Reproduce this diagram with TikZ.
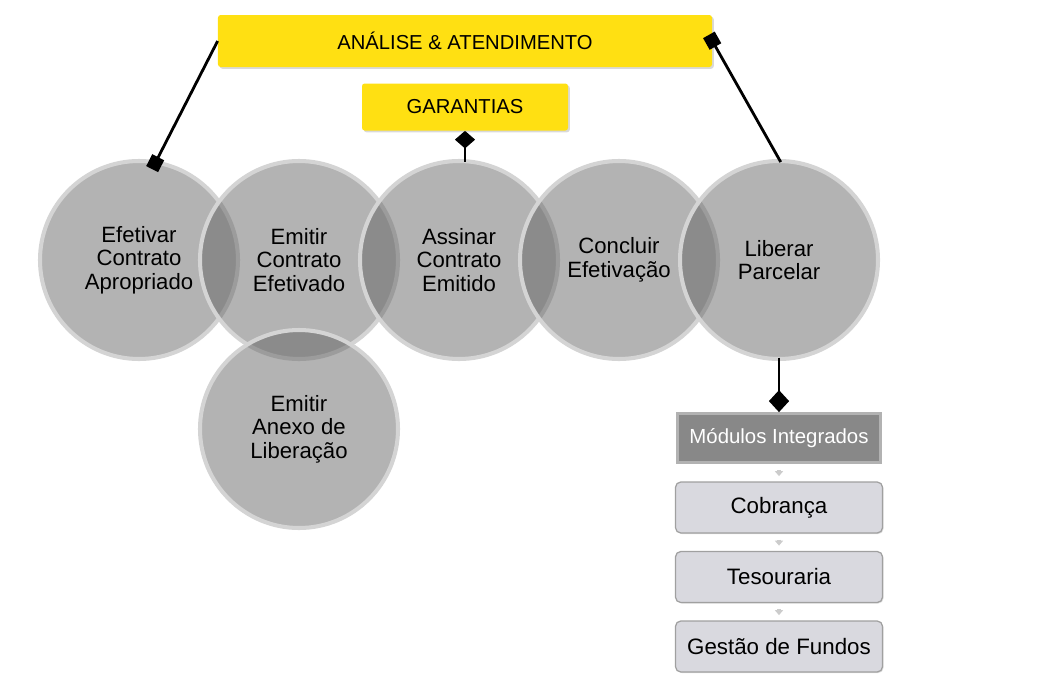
\documentclass[tikz,border=0pt]{standalone}
\usepackage{fontspec}
\setmainfont{Liberation Sans}
\usepackage{tikz}
\usetikzlibrary{positioning,shadows,arrows.meta}
\definecolor{sunyellow}{RGB}{255, 224, 18}
\definecolor{stepgray}{RGB}{99, 99, 99}
\definecolor{ringgray}{RGB}{212, 212, 212}
\definecolor{moddark}{RGB}{136, 136, 136}
\definecolor{modedge}{RGB}{178, 178, 178}
\definecolor{modlight}{RGB}{217, 217, 223}
\definecolor{modline}{RGB}{160, 160, 160}

\begin{document}
\begin{tikzpicture}[
    x=0.2mm, y=-0.2mm,
    node distance=3.2cm, on grid,
    every node/.style={align=center},
    etapa/.style={circle, minimum size=3.96cm, inner sep=0pt, fill=stepgray, fill opacity=0.49, text opacity=1, draw=ringgray, draw opacity=1, line width=2.3pt, font=\fontsize{12.6}{13.3}\selectfont},
    faixa/.style={rectangle, fill=sunyellow, rounded corners=1.5pt, font=\fontsize{11.5}{13}\selectfont, drop shadow={shadow xshift=1pt, shadow yshift=-1pt, opacity=0.3}},
    modulo/.style={rectangle, fill=moddark, draw=modedge, line width=1.6pt, text=white, minimum width=4.06cm, minimum height=0.98cm, font=\fontsize{11.6}{13}\selectfont},
    sistema/.style={rectangle, fill=modlight, draw=modline, line width=0.7pt, rounded corners=3pt, minimum width=4.14cm, minimum height=1.02cm, font=\fontsize{12.7}{14}\selectfont, drop shadow={shadow xshift=0.6pt, shadow yshift=-0.6pt, opacity=0.25}},
    ligacao/.style={draw=black, line width=1.6pt},
    seta/.style={draw=gray!40, line width=2.8pt, -{Triangle[length=2.8pt, width=4.6pt]}, shorten <=3.4pt, shorten >=3pt}
]
    \useasboundingbox (0,0) rectangle (1037,695);

    % Faixas superiores
    \node[faixa, minimum width=9.88cm, minimum height=1.04cm] (analise) at (465,41) {ANÁLISE \& ATENDIMENTO};
    \node[faixa, minimum width=4.12cm, minimum height=0.94cm, below=1.32cm of analise] (garantias) {GARANTIAS};

    % Etapas do contrato
    \node[etapa] (efetivar) at (139,260) {Efetivar\\Contrato\\Apropriado};
    \node[etapa, right=of efetivar] (emitir) {Emitir\\Contrato\\Efetivado};
    \node[etapa, right=of emitir] (assinar) {Assinar\\Contrato\\Emitido};
    \node[etapa, right=of assinar] (concluir) {Concluir\\Efetivação};
    \node[etapa, right=of concluir] (liberar) {Liberar\\Parcelar};
    \node[etapa, below=3.38cm of emitir] (anexo) {Emitir\\Anexo de\\Liberação};

    % Modulos integrados
    \node[modulo, below=3.56cm of liberar] (modulos) {Módulos Integrados};
    \node[sistema, below=1.39cm of modulos] (cobranca) {Cobrança};
    \node[sistema, below=1.39cm of cobranca] (tesouraria) {Tesouraria};
    \node[sistema, below=1.39cm of tesouraria] (fundos) {Gestão de Fundos};

    % Ligacoes
    \draw[ligacao, -{Square[length=7.6pt, width=7.6pt]}, shorten >=-5.5pt] (analise.west) -- (efetivar.80);
    \draw[ligacao, {Square[length=7.6pt, width=7.6pt]}-, shorten <=-4pt, shorten >=-2pt] (analise.east) -- (liberar.north);
    \draw[ligacao, {Diamond[length=10pt, width=11.5pt]}-, shorten >=-2pt] (garantias.south) -- (garantias.south |- assinar.north);
    \draw[ligacao, -{Diamond[length=12.5pt, width=11.5pt]}, shorten <=-2pt] (liberar.south) -- (modulos.north);

    \draw[seta] (modulos) -- (cobranca);
    \draw[seta] (cobranca) -- (tesouraria);
    \draw[seta] (tesouraria) -- (fundos);

\end{tikzpicture}
\end{document}
